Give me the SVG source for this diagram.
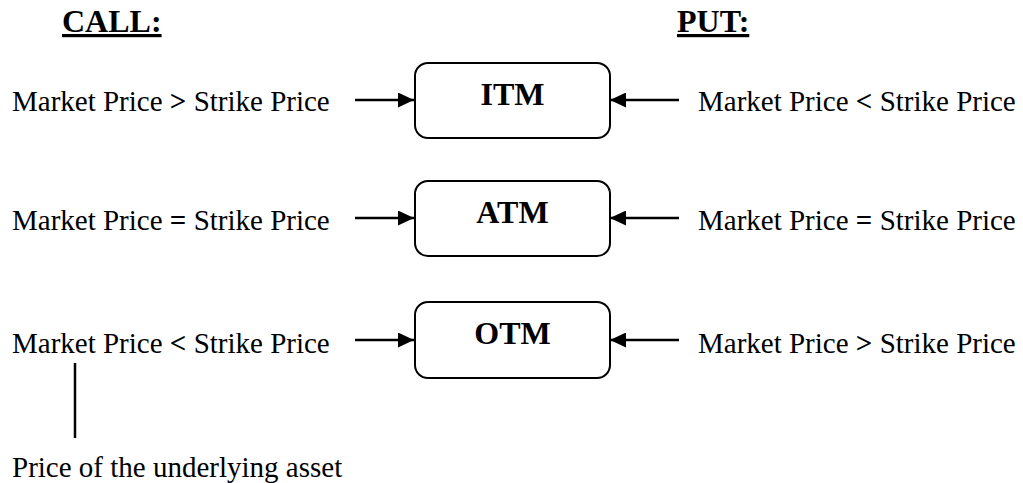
<svg xmlns="http://www.w3.org/2000/svg" width="1023" height="483" viewBox="0 0 1023 483">
<style>
.t{font-family:"Liberation Serif","Times New Roman",serif;font-size:29px;fill:#000}
.h{font-family:"Liberation Serif","Times New Roman",serif;font-size:32px;font-weight:bold;fill:#000}
.s{font-weight:bold}
.box{fill:#fff;stroke:#000;stroke-width:2}
.c{stroke:#000;stroke-width:2.5;fill:none}
</style>
<defs>
<marker id="ah" markerWidth="16" markerHeight="15" refX="16" refY="7.5" orient="auto" markerUnits="userSpaceOnUse">
<path d="M0,0 L16,7.5 L0,15 Z" fill="#000"/>
</marker>
</defs>
<rect width="1023" height="483" fill="#fff"/>
<g id="headers">
<text class="h" x="62" y="32" text-decoration="underline">CALL:</text>
<text class="h" x="677" y="32" text-decoration="underline">PUT:</text>
</g>
<g id="itm">
<rect class="box" x="415" y="63" width="195" height="75" rx="13"/>
<text class="h" x="512.5" y="105" text-anchor="middle">ITM</text>
</g>
<g id="atm">
<rect class="box" x="415" y="181" width="195" height="75" rx="13"/>
<text class="h" x="512.5" y="223" text-anchor="middle">ATM</text>
</g>
<g id="otm">
<rect class="box" x="415" y="302" width="195" height="76" rx="13"/>
<text class="h" x="512.5" y="344" text-anchor="middle">OTM</text>
</g>
<g id="call-labels">
<text class="t" x="12" y="111">Market Price <tspan class="s">&gt;</tspan> Strike Price</text>
<text class="t" x="12" y="230">Market Price <tspan class="s">=</tspan> Strike Price</text>
<text class="t" x="12" y="353">Market Price <tspan class="s">&lt;</tspan> Strike Price</text>
<text class="t" x="12" y="477">Price of the underlying asset</text>
</g>
<g id="put-labels">
<text class="t" x="698" y="111">Market Price <tspan class="s">&lt;</tspan> Strike Price</text>
<text class="t" x="698" y="230">Market Price <tspan class="s">=</tspan> Strike Price</text>
<text class="t" x="698" y="353">Market Price <tspan class="s">&gt;</tspan> Strike Price</text>
</g>
<g id="connectors">
<line class="c" x1="355" y1="100" x2="414" y2="100" marker-end="url(#ah)"/>
<line class="c" x1="355" y1="218" x2="414" y2="218" marker-end="url(#ah)"/>
<line class="c" x1="355" y1="340" x2="414" y2="340" marker-end="url(#ah)"/>
<line class="c" x1="679" y1="100" x2="610" y2="100" marker-end="url(#ah)"/>
<line class="c" x1="679" y1="218" x2="610" y2="218" marker-end="url(#ah)"/>
<line class="c" x1="679" y1="340" x2="610" y2="340" marker-end="url(#ah)"/>
<line class="c" x1="75" y1="363" x2="75" y2="438"/>
</g>
</svg>
